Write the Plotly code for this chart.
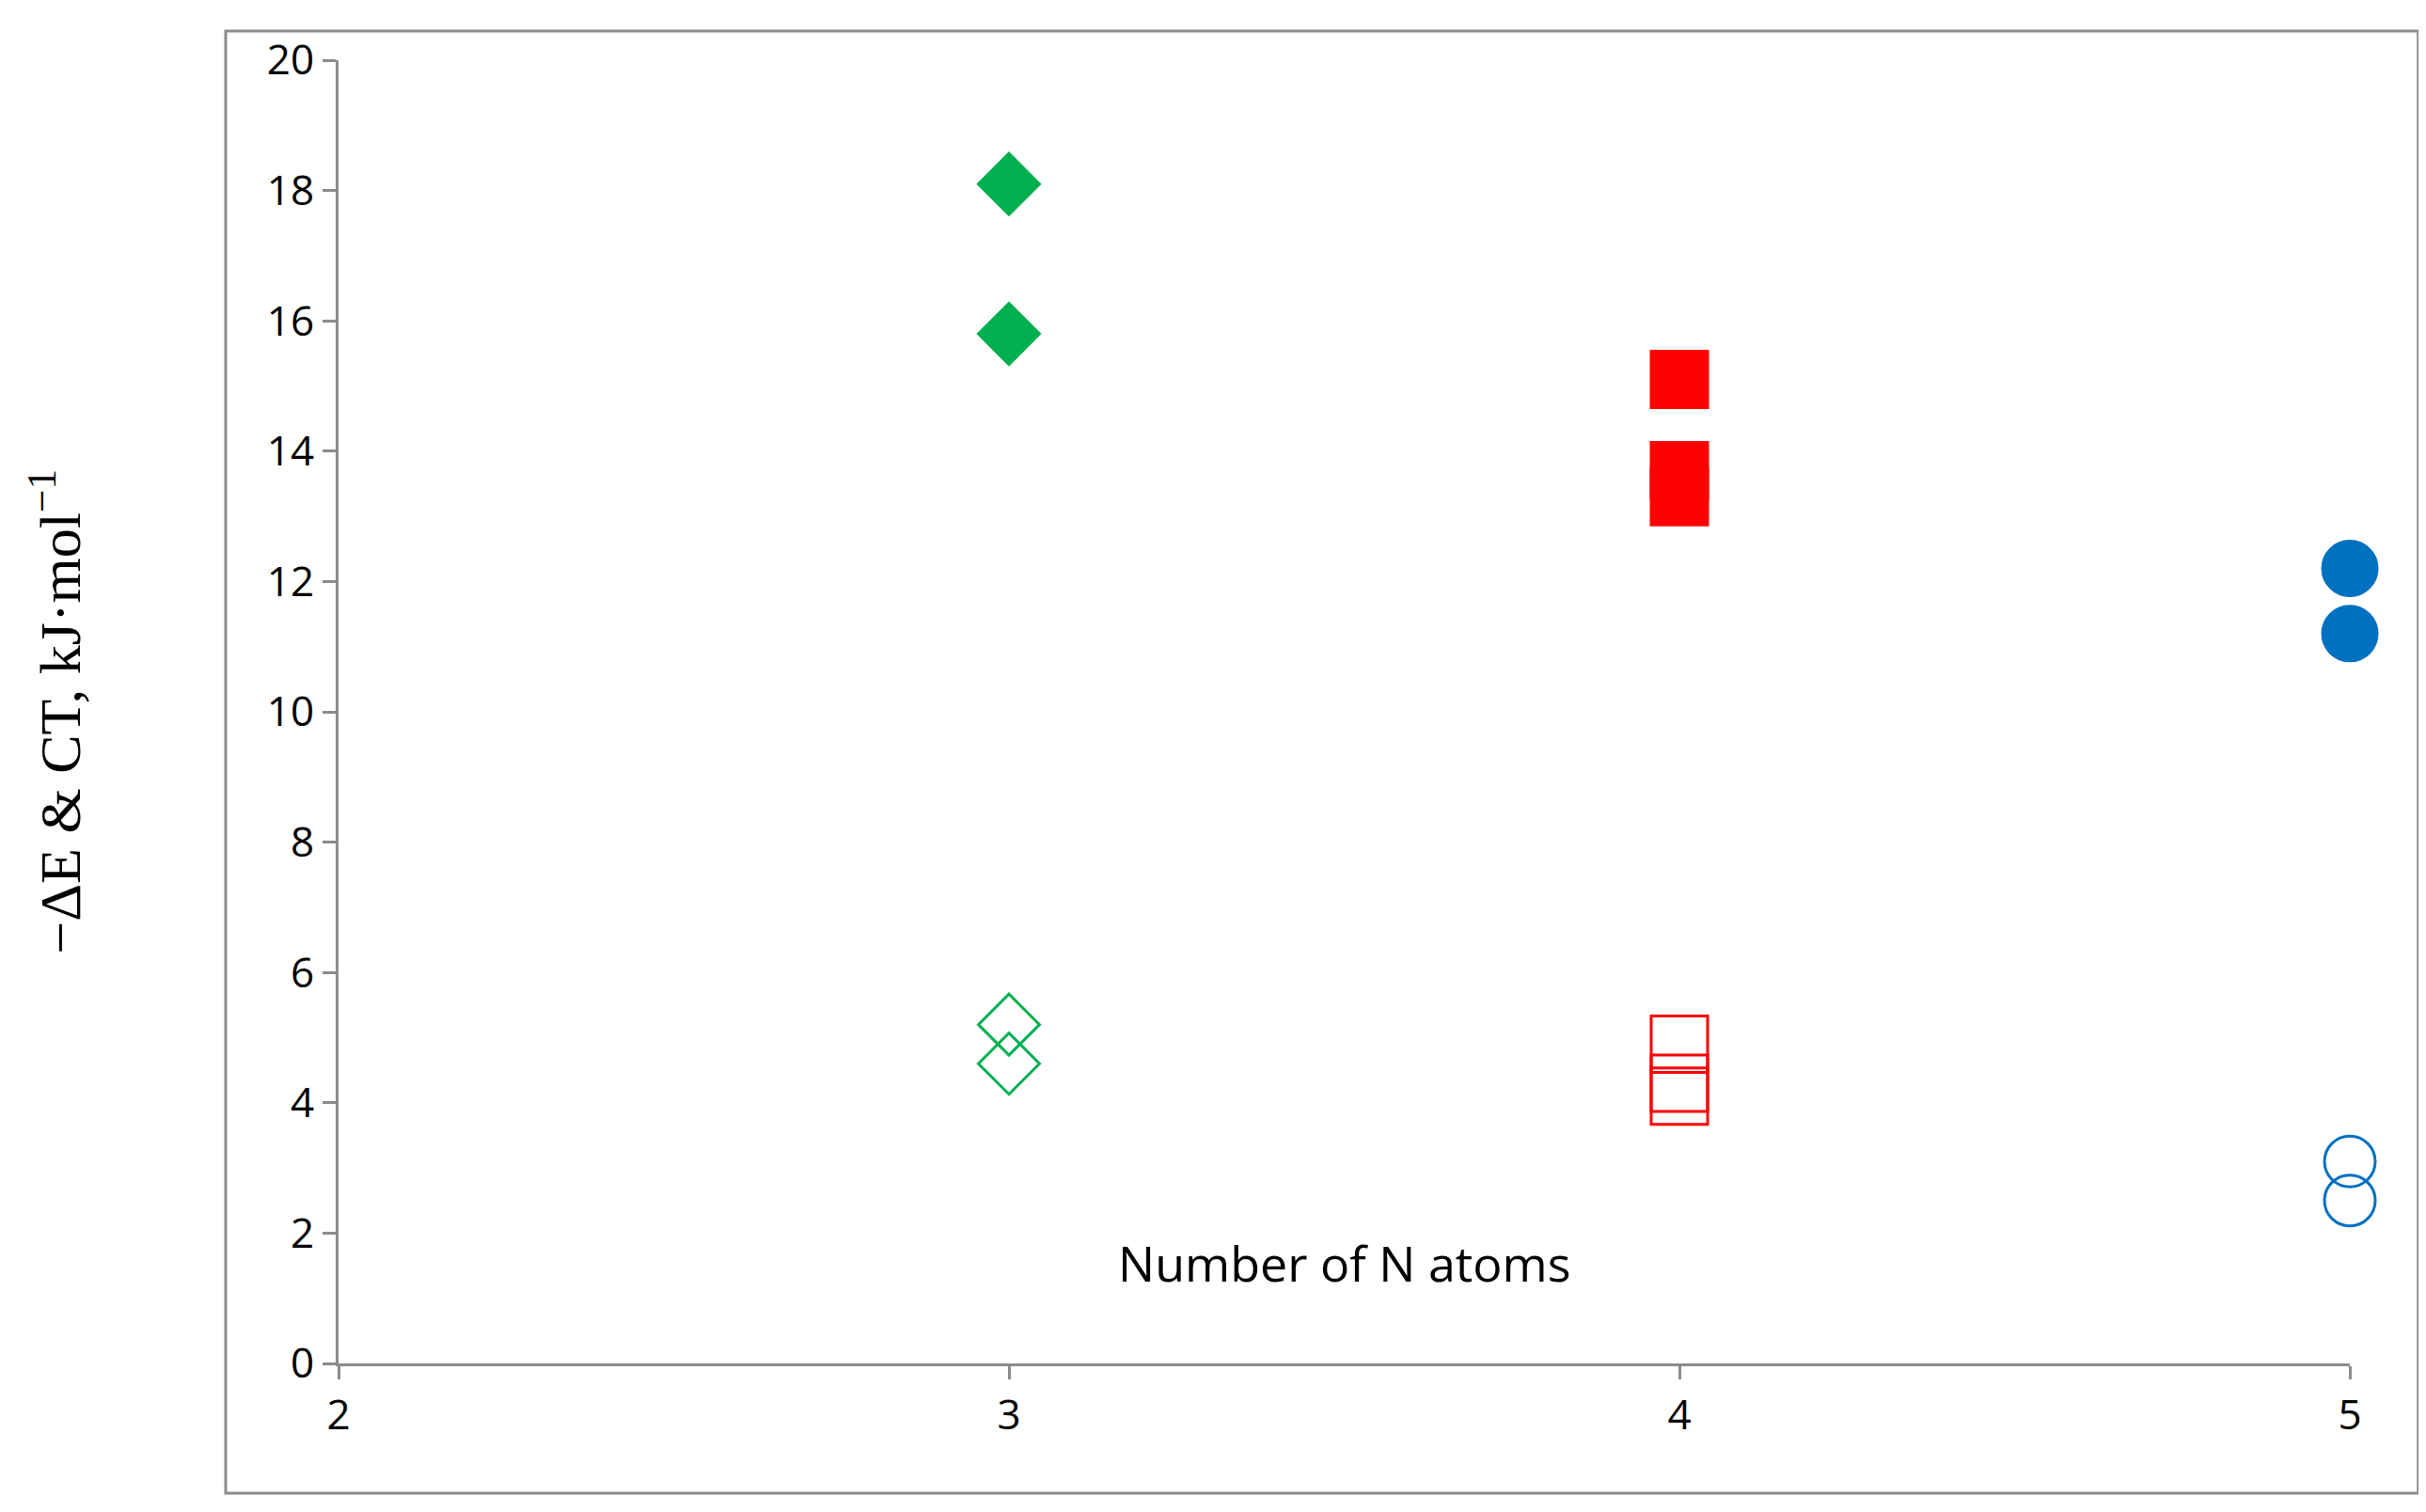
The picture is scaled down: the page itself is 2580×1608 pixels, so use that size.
import plotly.graph_objects as go

# number of N atoms and energies (kJ/mol)
n3_x = [3, 3]
n3_dE = [18.1, 15.8]
n3_ct = [5.2, 4.6]
n4_x = [4, 4, 4]
n4_dE = [15.1, 13.7, 13.3]
n4_ct = [4.9, 4.3, 4.1]
n5_x = [5, 5]
n5_dE = [12.2, 11.2]
n5_ct = [3.1, 2.5]

x_ticks = [2, 3, 4, 5]
y_ticks = list(range(0, 21, 2))

GREEN = "#00b050"
RED = "#ff0000"
BLUE = "#0070c0"

fig = go.Figure()
series = [
    (n3_x, n3_dE, "diamond", GREEN, 50),
    (n3_x, n3_ct, "diamond-open", GREEN, 50),
    (n4_x, n4_dE, "square", RED, 60),
    (n4_x, n4_ct, "square-open", RED, 60),
    (n5_x, n5_dE, "circle", BLUE, 58),
    (n5_x, n5_ct, "circle-open", BLUE, 54),
]
for xs, ys, sym, col, size in series:
    fig.add_trace(go.Scatter(
        x=xs, y=ys, mode="markers", showlegend=False, cliponaxis=False,
        marker=dict(symbol=sym, color=col, size=size,
                    line=dict(color=col, width=3)),
    ))

axis_common = dict(showgrid=False, zeroline=False, showline=True,
                   linecolor="#8c8c8c", linewidth=3, ticks="outside",
                   tickcolor="#8c8c8c", ticklen=14, tickwidth=3,
                   tickfont=dict(family="Open Sans", size=44, color="black"))
fig.update_xaxes(range=[2, 5], tickvals=x_ticks, **axis_common)
fig.update_yaxes(range=[0, 20], tickvals=y_ticks, **axis_common)

fig.add_annotation(x=3.5, y=1.55, xref="x", yref="y", text="Number of N atoms",
                   showarrow=False, xanchor="center",
                   font=dict(family="Open Sans", size=52, color="black"))
fig.add_annotation(x=-0.16, y=0.5, xref="paper", yref="paper",
                   text="\u2212\u0394E & CT, kJ\u00b7mol<sup>\u22121</sup>",
                   textangle=-90, showarrow=False,
                   font=dict(family="Liberation Serif", size=62, color="black"))
fig.add_shape(type="rect", xref="paper", yref="paper",
              x0=-0.0561, x1=1.034, y0=-0.0996, y1=1.0224,
              line=dict(color="#8c8c8c", width=3))

fig.update_layout(width=2580, height=1608, plot_bgcolor="white",
                  paper_bgcolor="white",
                  margin=dict(l=352, r=89, t=56, b=166))
fig.write_html("out.html")
